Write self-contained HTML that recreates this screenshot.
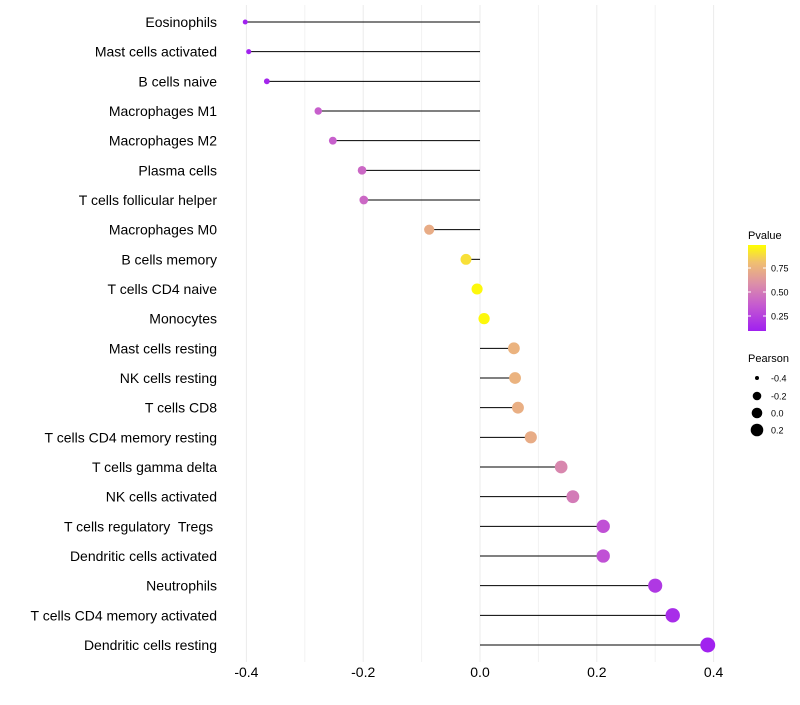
<!DOCTYPE html>
<html><head><meta charset="utf-8"><style>
body{margin:0;background:#fff;font-family:"Liberation Sans",sans-serif}
text{white-space:pre}
</style></head><body>
<svg id="c" width="800" height="700" xmlns="http://www.w3.org/2000/svg">
<defs><linearGradient id="pg" x1="0" y1="1" x2="0" y2="0">
<stop offset="0" stop-color="#a020f0"/><stop offset="0.3" stop-color="#c55ad0"/><stop offset="0.55" stop-color="#dc8fa8"/><stop offset="0.8" stop-color="#f0c070"/><stop offset="1" stop-color="#ffff00"/>
</linearGradient></defs>
</svg>
<script>
const cells=["Eosinophils","Mast cells activated","B cells naive","Macrophages M1","Macrophages M2","Plasma cells","T cells follicular helper","Macrophages M0","B cells memory","T cells CD4 naive","Monocytes","Mast cells resting","NK cells resting","T cells CD8","T cells CD4 memory resting","T cells gamma delta","NK cells activated","T cells regulatory  Tregs ","Dendritic cells activated","Neutrophils","T cells CD4 memory activated","Dendritic cells resting"];
const pearson=[-0.402,-0.396,-0.365,-0.277,-0.252,-0.202,-0.199,-0.087,-0.024,-0.005,0.007,0.058,0.06,0.065,0.087,0.139,0.159,0.211,0.211,0.30,0.33,0.39];
const pvalue=[0.1,0.1,0.12,0.38,0.38,0.42,0.42,0.72,0.9,0.97,0.97,0.75,0.75,0.73,0.72,0.55,0.5,0.32,0.32,0.2,0.15,0.1];
const xticks=[-0.4,-0.2,0.0,0.2,0.4];
const xtickLabels=["-0.4","-0.2","0.0","0.2","0.4"];
const minorTicks=[-0.3,-0.1,0.1,0.3];
const svg=document.getElementById('c');const NS="http://www.w3.org/2000/svg";
const X=v=>480+v*584;
const Y=i=>22+i*(623/21);
const R=v=>Math.sqrt(Math.max(3,6.25+62.5*(v+0.4)));
function mk(t,a,p){const e=document.createElementNS(NS,t);for(const k in a)e.setAttribute(k,a[k]);(p||svg).appendChild(e);return e;}
const stops=[[0,[160,32,240]],[0.3,[197,90,208]],[0.55,[220,143,168]],[0.8,[240,192,112]],[1,[255,255,0]]];
function col(p){const t=Math.max(0,Math.min(1,(p-0.09)/0.9));for(let i=1;i<stops.length;i++){if(t<=stops[i][0]){const a=stops[i-1],b=stops[i],f=(t-a[0])/(b[0]-a[0]);return `rgb(${a[1].map((c,j)=>Math.round(c+(b[1][j]-c)*f)).join(',')})`;}}return 'yellow';}
minorTicks.forEach(v=>{const g=mk('line',{x1:X(v),x2:X(v),y1:5,y2:662,stroke:'#f2f2f2','stroke-width':1});

});
xticks.forEach((v,i)=>{const g=mk('line',{x1:X(v),x2:X(v),y1:5,y2:662,stroke:'#ebebeb','stroke-width':1});


const t=mk('text',{x:X(v),y:677,'text-anchor':'middle','font-size':14,fill:'#000'});t.textContent=xtickLabels[i];

});
cells.forEach((c,i)=>{const y=Y(i);
const t=mk('text',{x:217,y:y+5,'text-anchor':'end','font-size':14,fill:'#000'});t.textContent=c;


const l=mk('line',{x1:X(0),x2:X(pearson[i]),y1:y,y2:y,stroke:'#000','stroke-width':1});


const d=mk('circle',{cx:X(pearson[i]),cy:y,r:R(pearson[i]),fill:col(pvalue[i])});

});
const lg=mk('g',{});


let t=mk('text',{x:748,y:239,'font-size':11},lg);t.textContent='Pvalue';
mk('rect',{x:748,y:245,width:18,height:86,fill:'url(#pg)'},lg);
[[0.75,268],[0.50,292],[0.25,316]].forEach(([v,y])=>{mk('line',{x1:748,x2:751,y1:y,y2:y,stroke:'#fff'},lg);mk('line',{x1:763,x2:766,y1:y,y2:y,stroke:'#fff'},lg);
const tt=mk('text',{x:771,y:y+3.5,'font-size':9},lg);tt.textContent=v.toFixed(2);});
const sg=mk('g',{});


t=mk('text',{x:748,y:362,'font-size':11},sg);t.textContent='Pearson';
[[-0.4,378,2],[-0.2,396,4.3],[0.0,413,5.3],[0.2,430,6.3]].forEach(([v,y,r])=>{mk('circle',{cx:757,cy:y,r:r},sg);
const tt=mk('text',{x:771,y:y+3.5,'font-size':9},sg);tt.textContent=v.toFixed(1);});
</script>
</body></html>
